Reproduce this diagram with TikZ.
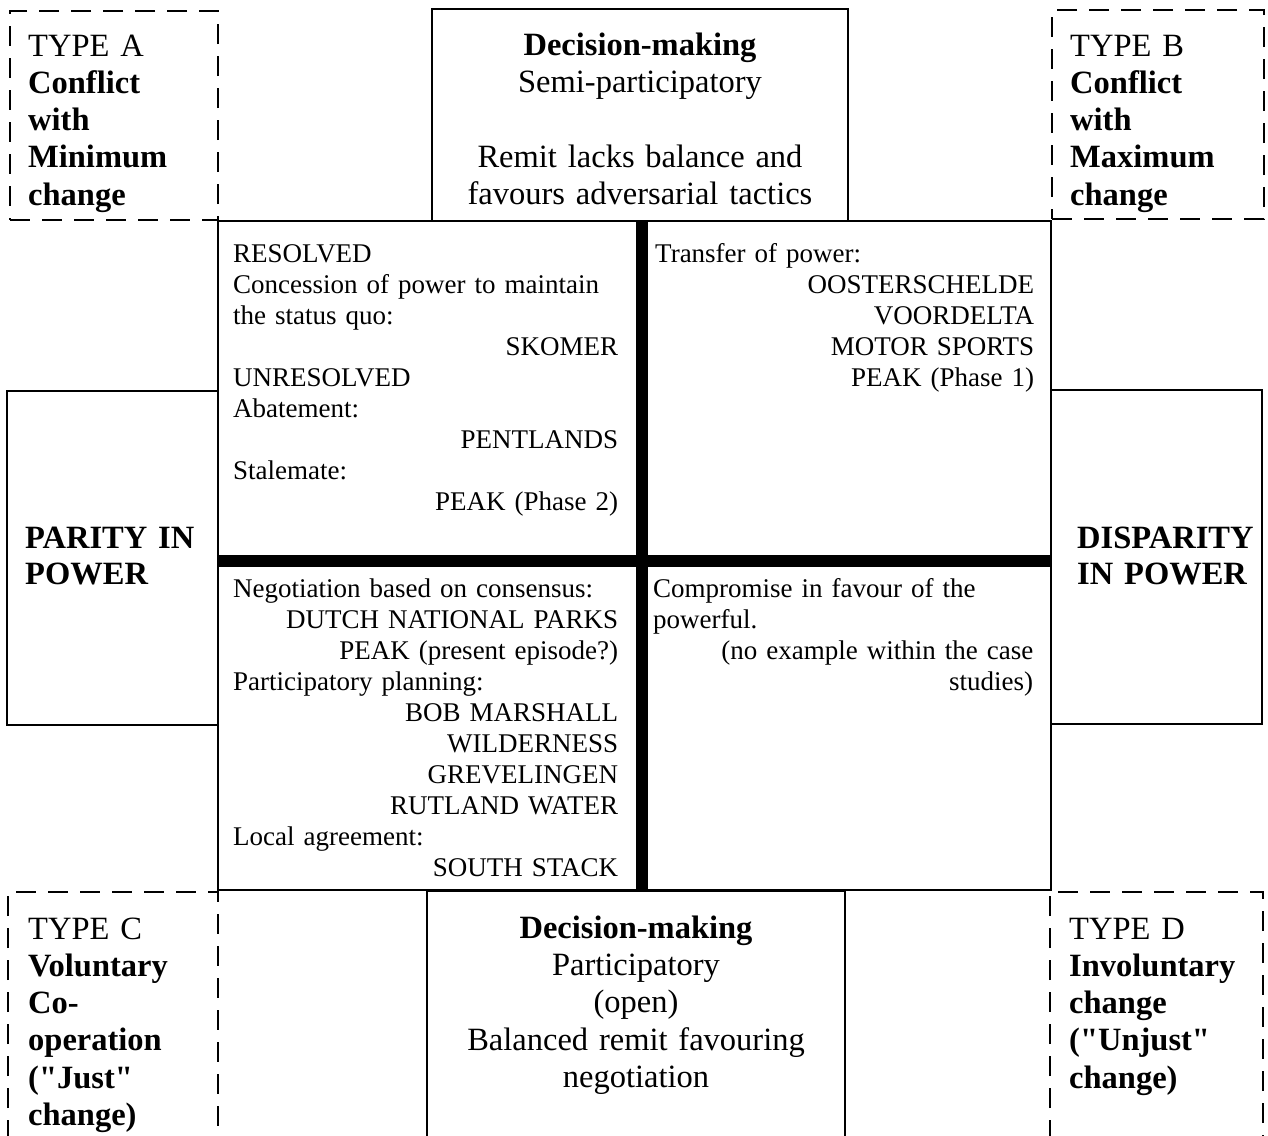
\documentclass[tikz,border=0pt]{standalone}
\usepackage{fontspec}
\setmainfont{Liberation Serif}[Ligatures=TeXOff]
\begin{document}
\begin{tikzpicture}[x=1pt,y=-1pt,
  box/.style={draw, line width=1.8pt, inner sep=0pt},
  dbox/.style={draw, line width=1.4pt, dash pattern=on 20pt off 12pt},
  heavy/.style={line width=12pt},
  hdr/.style={font=\fontsize{32.5}{37.3}\selectfont, inner sep=0pt, anchor=base west, text width=190, align=left},
  hdrc/.style={font=\fontsize{32.5}{37.4}\selectfont, inner sep=0pt, anchor=base, text width=410, align=center},
  side/.style={font=\bfseries\fontsize{32.5}{36}\selectfont, inner sep=0pt, anchor=base west, text width=190, align=left},
  cell/.style={font=\fontsize{27}{31.1}\selectfont, inner sep=0pt, anchor=base west, align=left}
]
\useasboundingbox[fill=white] (0,0) rectangle (1268,1135);

% boxes
\node[box, dbox, minimum width=208, minimum height=209] (tA) at (114,115.5) {};
\node[box, minimum width=416, minimum height=212] (dmtop) at (640,115) {};
\node[box, dbox, minimum width=212, minimum height=209] (tB) at (1158,114.5) {};
\node[box, minimum width=833, minimum height=669] (grid) at (634.5,555.5) {};
\node[box, minimum width=211, minimum height=334] (parity) at (112.5,558) {};
\node[box, minimum width=211, minimum height=334] (disparity) at (1156.5,557) {};

% bottom boxes (open at the lower edge of the page)
\draw[dbox] (8,1140) |- (218,892) -- (218,1140);
\draw[line width=1.8pt] (427,1140) |- (845,891) -- (845,1140);
\draw[dbox] (1050,1140) |- (1263,892) -- (1263,1140);

% heavy cross
\coordinate (vtop) at (642,221);
\coordinate (vbot) at (642,890);
\coordinate (hlft) at (218,561);
\coordinate (hrgt) at (1051,561);
\draw[heavy] (vtop) -- (vbot);
\draw[heavy] (hlft) -- (hrgt);

% corner texts
\node[hdr] (txA) at (28,56) {TYPE A\\\textbf{Conflict}\\\textbf{with}\\\textbf{Minimum}\\\textbf{change}};
\node[hdr] (txB) at (1070,56) {TYPE B\\\textbf{Conflict}\\\textbf{with}\\\textbf{Maximum}\\\textbf{change}};
\node[hdr] (txC) at (28,939) {TYPE C\\\textbf{Voluntary}\\\textbf{Co-}\\\textbf{operation}\\\textbf{("Just"}\\\textbf{change)}};
\node[hdr] (txD) at (1069,939) {TYPE D\\\textbf{Involuntary}\\\textbf{change}\\\textbf{("Unjust"}\\\textbf{change)}};

% decision-making texts
\node[hdrc] (txtop) at (640,55) {\textbf{Decision-making}\\Semi-participatory\\[37.2pt]Remit lacks balance and\\favours adversarial tactics};
\node[hdrc] (txbot) at (636,938) {\textbf{Decision-making}\\Participatory\\(open)\\Balanced remit favouring\\negotiation};

% side texts
\node[side] (txpar) at (25,548) {PARITY IN\\POWER};
\node[side] (txdis) at (1077,548) {DISPARITY\\IN POWER};

% cell texts
\node[cell, text width=385] (c1) at (233,262) {RESOLVED\\Concession of power to maintain\\the status quo:\\\hfill SKOMER\\UNRESOLVED\\Abatement:\\\hfill PENTLANDS\\Stalemate:\\\hfill PEAK (Phase 2)};
\node[cell, text width=379] (c2) at (655,262) {Transfer of power:\\\hfill OOSTERSCHELDE\\\hfill VOORDELTA\\\hfill MOTOR SPORTS\\\hfill PEAK (Phase 1)};
\node[cell, text width=385] (c3) at (233,597) {Negotiation based on consensus:\\\hfill DUTCH NATIONAL PARKS\\\hfill PEAK (present episode?)\\Participatory planning:\\\hfill BOB MARSHALL\\\hfill WILDERNESS\\\hfill GREVELINGEN\\\hfill RUTLAND WATER\\Local agreement:\\\hfill SOUTH STACK};
\node[cell, text width=380] (c4) at (653,597) {Compromise in favour of the\\powerful.\\\hfill(no example within the case\\\hfill studies)};
\end{tikzpicture}
\end{document}
